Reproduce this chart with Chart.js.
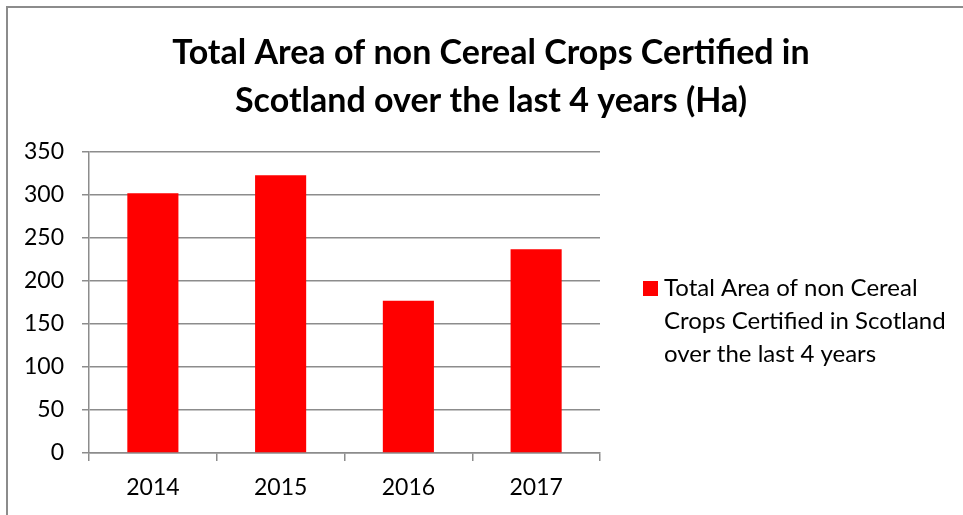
<!DOCTYPE html>
<html>
<head>
<meta charset="utf-8">
<script src="https://cdn.jsdelivr.net/npm/chart.js@4"></script>
<style>
  html, body { margin: 0; padding: 0; background: #fff; }
  #wrap { width: 963px; height: 515px; position: relative; }
</style>
</head>
<body>
<div id="wrap"><canvas id="myBarChart"></canvas></div>
<script>
// chart data
var years = ["2014", "2015", "2016", "2017"];
var areaHa = [302, 323, 177, 237];
var seriesName = "Total Area of non Cereal Crops Certified in Scotland over the last 4 years";
var titleLines = ["Total Area of non Cereal Crops Certified in", "Scotland over the last 4 years (Ha)"];

var gridGrey = "#8c8c8c";
var textFont = "Lato, 'Open Sans', sans-serif";

// grey frame, white background and the title (centred on the whole frame)
var framePlugin = {
    id: 'frame',
    beforeDraw: function (chart) {
        var c = chart.ctx;
        c.save();
        c.fillStyle = "#fff";
        c.fillRect(0, 0, chart.width, chart.height);
        c.strokeStyle = gridGrey;
        c.lineWidth = 2;
        c.beginPath();
        c.moveTo(7, chart.height);
        c.lineTo(7, 7);
        c.lineTo(chart.width, 7);
        c.stroke();
        c.fillStyle = "#000";
        c.font = "bold 34px " + textFont;
        c.textAlign = "center";
        c.textBaseline = "middle";
        titleLines.forEach(function (t, i) {
            c.fillText(t, 491, 53 + i * 48);
        });
        c.restore();
    }
};

// legend on the right, with wrapped text
var wrapLegend = {
    id: 'wrapLegend',
    afterDraw: function (chart) {
        var c = chart.ctx;
        var ds = chart.data.datasets[0];
        var x = chart.chartArea.right + 43;
        var y = 288;
        c.save();
        c.fillStyle = ds.backgroundColor;
        c.fillRect(x, y - 7, 15, 15);
        c.font = "24px " + textFont;
        c.fillStyle = "#000";
        c.textBaseline = "middle";
        var words = ds.label.split(" ");
        var line = "";
        var lines = [];
        words.forEach(function (w) {
            var test = line ? line + " " + w : w;
            if (c.measureText(test).width > 300 && line) {
                lines.push(line);
                line = w;
            } else {
                line = test;
            }
        });
        lines.push(line);
        lines.forEach(function (l, i) {
            c.fillText(l, x + 21, y + i * 33);
        });
        c.restore();
    }
};

var ctx = document.getElementById("myBarChart").getContext('2d');
var myBarChart = new Chart(ctx, {
    type: 'bar',
    data: {
        labels: years,
        datasets: [{
            label: seriesName,
            backgroundColor: "#ff0000",
            data: areaHa,
            categoryPercentage: 1.0,
            barPercentage: 0.4
        }]
    },
    options: {
        responsive: true,
        maintainAspectRatio: false,
        animation: false,
        layout: { padding: { left: 0, right: 363, top: 152, bottom: 0 } },
        plugins: {
            legend: { display: false },
            tooltip: { enabled: false },
            title: { display: false }
        },
        scales: {
            x: {
                offset: true,
                grid: {
                    offset: true,
                    drawOnChartArea: false,
                    drawTicks: true,
                    tickLength: 8,
                    color: gridGrey,
                    lineWidth: 1.5
                },
                border: { color: gridGrey, width: 1.5 },
                ticks: { color: "#000", padding: 13, font: { family: textFont, size: 23 } },
                afterFit: function (s) { s.height = 62; }
            },
            y: {
                min: 0,
                max: 350,
                grid: { color: gridGrey, lineWidth: 1.5, tickLength: 7 },
                border: { color: gridGrey, width: 1.5 },
                ticks: { stepSize: 50, color: "#000", padding: 18, font: { family: textFont, size: 23 } },
                afterFit: function (s) { s.width = 89; }
            }
        }
    },
    plugins: [framePlugin, wrapLegend]
});
</script>
</body>
</html>
